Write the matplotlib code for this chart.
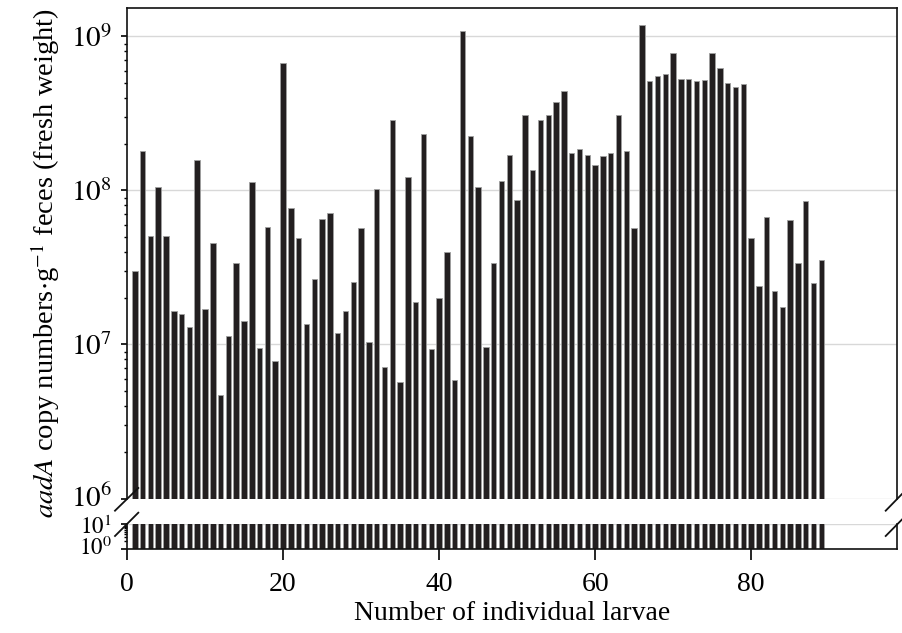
import numpy as np
import matplotlib
matplotlib.use("Agg")
import matplotlib.pyplot as plt
import matplotlib.transforms as mtransforms
from matplotlib.ticker import LogLocator, NullFormatter, FixedLocator

plt.rcParams['font.family'] = ['Liberation Serif', 'DejaVu Serif']
plt.rcParams['mathtext.fontset'] = 'stix'

larvae = list(range(1, 90))
copies = [
    2.98e7, 1.81e8, 5.1e7, 1.05e8, 5.1e7, 1.66e7, 1.57e7, 1.30e7, 1.58e8, 1.71e7,
    4.57e7, 4.73e6, 1.14e7, 3.40e7, 1.42e7, 1.13e8, 9.5e6, 5.83e7, 7.83e6, 6.7e8,
    7.7e7, 4.88e7, 1.36e7, 2.68e7, 6.5e7, 7.1e7, 1.19e7, 1.65e7, 2.55e7, 5.69e7,
    1.04e7, 1.03e8, 7.1e6, 2.86e8, 5.69e6, 1.23e8, 1.88e7, 2.34e8, 9.3e6, 2.0e7,
    4.0e7, 5.9e6, 1.08e9, 2.26e8, 1.05e8, 9.7e6, 3.37e7, 1.16e8, 1.71e8, 8.65e7,
    3.07e8, 1.36e8, 2.89e8, 3.07e8, 3.78e8, 4.44e8, 1.75e8, 1.85e8, 1.71e8, 1.46e8,
    1.68e8, 1.75e8, 3.07e8, 1.81e8, 5.69e7, 1.19e9, 5.13e8, 5.58e8, 5.73e8, 7.76e8,
    5.26e8, 5.26e8, 5.13e8, 5.18e8, 7.76e8, 6.22e8, 5.0e8, 4.71e8, 4.93e8, 4.93e7,
    2.40e7, 6.74e7, 2.21e7, 1.76e7, 6.46e7, 3.37e7, 8.53e7, 2.50e7, 3.55e7,
]
x_ticks = [0, 20, 40, 60, 80]
upper_ticks = [1e6, 1e7, 1e8, 1e9]
upper_labels = [r'$10^{6}$', r'$10^{7}$', r'$10^{8}$', r'$10^{9}$']
lower_ticks = [1, 10]
lower_labels = [r'$10^{0}$', r'$10^{1}$']

W, H = 902, 633
fig = plt.figure(figsize=(W / 100, H / 100), dpi=100)
L, R = 127 / W, 897 / W
ax_up = fig.add_axes([L, 1 - 498.5 / H, R - L, (498.5 - 8) / H])
ax_lo = fig.add_axes([L, 1 - 548.5 / H, R - L, (548.5 - 524) / H])

bar_color = '#231f20'
edge = '#a0a0a0'
for ax in (ax_up, ax_lo):
    ax.bar(larvae, copies, width=0.7, color=bar_color, edgecolor=edge,
           linewidth=0.6, zorder=2, bottom=0.0)
    ax.set_yscale('log')
    ax.set_xlim(0, 98.7)
    ax.grid(axis='y', which='major', color='#d8d8d8', lw=1.0, zorder=0)
    ax.set_axisbelow(True)
    for s in ax.spines.values():
        s.set_linewidth(1.2)
        s.set_color('#111111')

ax_up.set_ylim(1e6, 10 ** 9.185)
ax_lo.set_ylim(1, 10.4)

ax_up.spines['bottom'].set_visible(False)
ax_lo.spines['top'].set_visible(False)

ax_up.yaxis.set_major_locator(FixedLocator(upper_ticks))
ax_up.set_yticklabels(upper_labels)
ax_up.yaxis.set_minor_locator(LogLocator(base=10, subs=np.arange(2, 10)))
ax_up.yaxis.set_minor_formatter(NullFormatter())
ax_lo.yaxis.set_major_locator(FixedLocator(lower_ticks))
ax_lo.set_yticklabels(lower_labels)
ax_lo.yaxis.set_minor_locator(LogLocator(base=10, subs=np.arange(2, 10)))
ax_lo.yaxis.set_minor_formatter(NullFormatter())

ax_up.tick_params(axis='x', bottom=False, labelbottom=False)
ax_lo.set_xticks(x_ticks)
ax_lo.tick_params(axis='x', direction='out', length=8, width=1.2, labelsize=20, pad=9)
ax_up.tick_params(axis='y', which='major', direction='out', length=4, width=1.2,
                  labelsize=21, pad=7, right=False)
ax_lo.tick_params(axis='y', which='major', direction='out', length=4, width=1.2,
                  labelsize=16.5, pad=7, right=False)
for ax in (ax_up, ax_lo):
    ax.tick_params(axis='y', which='minor', direction='out', length=2.5, width=1.0,
                   right=False)

def nudge(lab, dy_px):
    lab.set_transform(lab.get_transform() +
                      mtransforms.ScaledTranslation(0, dy_px / 100, fig.dpi_scale_trans))

# crowded labels around the axis break
nudge(ax_up.get_yticklabels()[0], 3)
lo_labs = ax_lo.get_yticklabels()
nudge(lo_labs[0], 3)
nudge(lo_labs[1], 0)

# break marks
def brk(x0, y0, x1, y1):
    fig.add_artist(plt.Line2D([x0 / W, x1 / W], [1 - y0 / H, 1 - y1 / H],
                              color='#111111', lw=1.3))
brk(115, 510.7, 138.3, 488)
brk(115, 536, 138.3, 512.7)
brk(885.7, 510.7, 902, 494)
brk(885.7, 536, 902, 519.5)

ax_lo.set_xlabel('Number of individual larvae', fontsize=20, labelpad=3)
fig.text(45 / W, 1 - 263 / H,
         r'$\mathit{aadA}$ copy numbers$\cdot$g$^{-1}$ feces (fresh weight)',
         rotation=90, ha='center', va='center', fontsize=20.5)

fig.savefig('out.png', dpi=100)
